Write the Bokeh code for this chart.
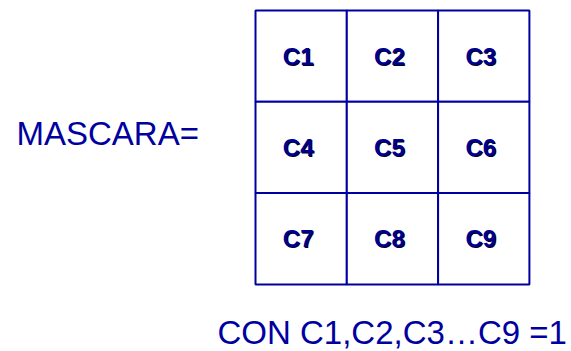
from bokeh.plotting import figure
from bokeh.models import ColumnDataSource, Range1d
from bokeh.core.properties import value
from bokeh.embed import file_html
from bokeh.resources import INLINE

# ---- data ----
cell_labels = ["C1", "C2", "C3", "C4", "C5", "C6", "C7", "C8", "C9"]
grid_n = 3
left_text = "MASCARA="
caption_text = "CON C1,C2,C3\u2026C9 =1"

# ---- layout ----
W, H = 571, 351
scale = 91.3                     # px per cell
gx0 = -255 / scale               # x_range start (grid left at 0)
gy1 = grid_n + 10 / scale        # y_range end (grid top at grid_n)

p = figure(width=W, height=H, output_backend="svg", toolbar_location=None,
           x_range=Range1d(gx0, gx0 + W / scale),
           y_range=Range1d(gy1 - H / scale, gy1),
           min_border=0, outline_line_color=None)
p.xaxis.visible = False
p.yaxis.visible = False
p.grid.visible = False
p.background_fill_color = "white"
p.border_fill_color = "white"

blue = "#0000A0"

# grid cells
cx, cy, labs = [], [], []
for i, lab in enumerate(cell_labels):
    r, c = divmod(i, grid_n)
    cx.append(c + 0.5)
    cy.append(grid_n - r - 0.5)
    labs.append(lab)
src = ColumnDataSource(dict(x=cx, y=cy, text=labs))

p.rect(x="x", y="y", width=1, height=1, source=src,
       fill_color="white", line_color=blue, line_width=2)

# label shadow + label
p.text(x="x", y="y", text="text", source=src, x_offset=-2, y_offset=1,
       text_font=value("Liberation Sans"), text_font_style="bold",
       text_font_size="24px", text_color="#000022",
       text_align="center", text_baseline="middle")
p.text(x="x", y="y", text="text", source=src, x_offset=-3,
       text_font=value("Liberation Sans"), text_font_style="bold",
       text_font_size="24px", text_color="#000090",
       text_align="center", text_baseline="middle")

# left text
p.text(x=[(16 - 255) / scale], y=[gy1 - 133 / scale], text=[left_text],
       text_font=value("Liberation Sans"), text_font_size="33px",
       text_color=blue, text_align="left", text_baseline="middle")

# caption
p.text(x=[(217 - 255) / scale], y=[gy1 - 332 / scale], text=[caption_text],
       text_font=value("Liberation Sans"), text_font_size="33px",
       text_color=blue, text_align="left", text_baseline="middle")

open("out.html", "w").write(file_html(p, INLINE))
